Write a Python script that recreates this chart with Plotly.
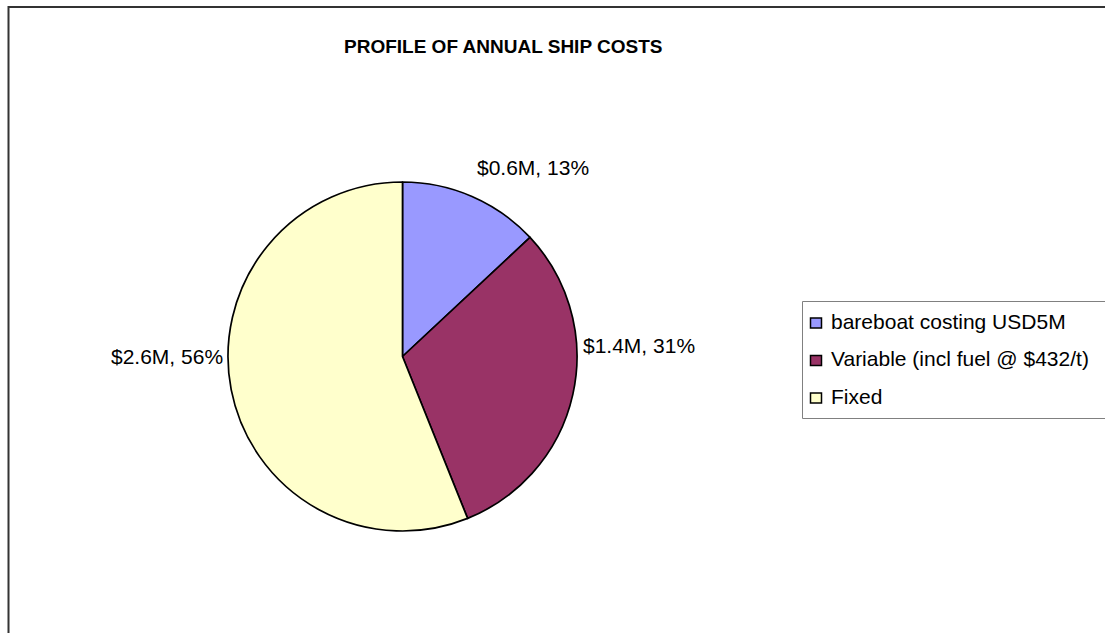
import plotly.graph_objects as go

categories = ["bareboat costing USD5M", "Variable (incl fuel @ $432/t)", "Fixed"]
values_musd = [0.6, 1.42, 2.58]
colors = ["#9999FF", "#993366", "#FFFFCC"]
title_text = "PROFILE OF ANNUAL SHIP COSTS"

W, H = 1105, 633
FONT = "Liberation Sans, Arial, sans-serif"
LABEL_SIZE = 21

# pie geometry (pixels)
cx, cy, r = 402.5, 356.5, 174.5
dom_x = [(cx - r) / W, (cx + r) / W]
dom_y = [(H - cy - r) / H, (H - cy + r) / H]

# data-label anchor positions (pixels): (x, y, xanchor)
label_pos = [(475, 168, "left"), (581, 345, "left"), (225, 356, "right")]

# legend layout (pixels)
leg_box = (802.5, 301.5, 1130, 418.5)
leg_row0, leg_step = 321, 37.5
sw_x, sw_w, sw_h, txt_x = 816, 11, 10, 829

fig = go.Figure(go.Pie(
    labels=categories,
    values=values_musd,
    sort=False,
    direction="clockwise",
    rotation=0,
    marker=dict(colors=colors, line=dict(color="#000000", width=1.7)),
    textinfo="none",
    automargin=False,
    domain=dict(x=dom_x, y=dom_y),
    hoverinfo="label+value+percent",
    showlegend=False,
))

total = sum(values_musd)
px = lambda x: x / W
py = lambda y: (H - y) / H

annotations = [dict(
    text="<b>" + title_text + "</b>",
    x=px(502.5), y=py(47), xref="paper", yref="paper",
    xanchor="center", yanchor="middle", showarrow=False,
    font=dict(family=FONT, size=19, color="#000000"),
)]
for v, (lx, ly, anc) in zip(values_musd, label_pos):
    annotations.append(dict(
        text=f"${v:.1f}M, {round(100 * v / total)}%",
        x=px(lx), y=py(ly), xref="paper", yref="paper",
        xanchor=anc, yanchor="middle", showarrow=False,
        font=dict(family=FONT, size=LABEL_SIZE, color="#000000"),
    ))

shapes = [
    dict(type="rect", xref="paper", yref="paper",
         x0=px(8.5), x1=1.02, y0=-0.02, y1=py(7),
         line=dict(color="#333333", width=2), fillcolor="rgba(0,0,0,0)"),
    dict(type="rect", xref="paper", yref="paper",
         x0=px(leg_box[0]), x1=px(leg_box[2]), y0=py(leg_box[3]), y1=py(leg_box[1]),
         line=dict(color="#808080", width=1), fillcolor="rgba(0,0,0,0)"),
]
for i, (cat, col) in enumerate(zip(categories, colors)):
    ry = leg_row0 + i * leg_step
    shapes.append(dict(
        type="rect", xref="paper", yref="paper",
        x0=px(sw_x - sw_w / 2), x1=px(sw_x + sw_w / 2),
        y0=py(ry + 2 + sw_h / 2), y1=py(ry + 2 - sw_h / 2),
        line=dict(color="#000000", width=1.5), fillcolor=col))
    annotations.append(dict(
        text=cat, x=px(txt_x), y=py(ry), xref="paper", yref="paper",
        xanchor="left", yanchor="middle", showarrow=False,
        font=dict(family=FONT, size=LABEL_SIZE, color="#000000"),
    ))

fig.update_layout(
    width=W, height=H,
    margin=dict(l=0, r=0, t=0, b=0),
    paper_bgcolor="#FFFFFF",
    plot_bgcolor="#FFFFFF",
    showlegend=False,
    annotations=annotations,
    shapes=shapes,
)

fig.write_html("out.html")
